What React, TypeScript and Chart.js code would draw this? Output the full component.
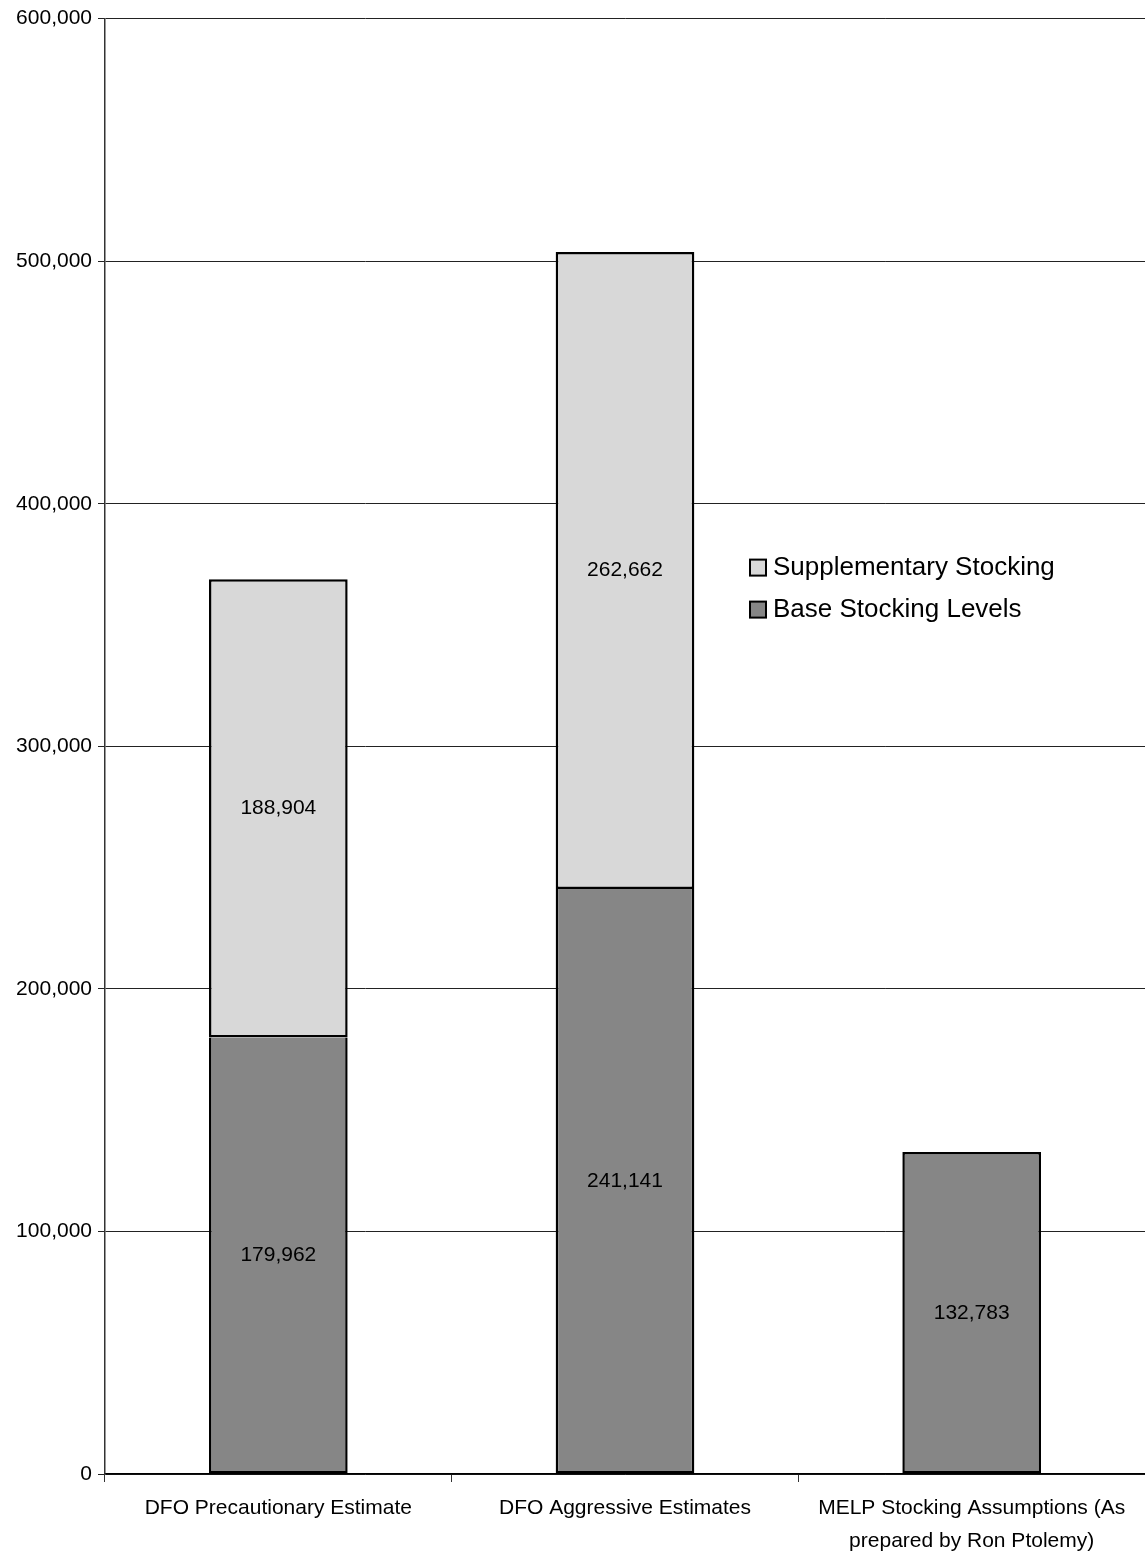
import React, { useEffect, useRef } from "react";
import { Chart, registerables } from "chart.js";

Chart.register(...registerables);

const categories: (string | string[])[] = [
  "DFO Precautionary Estimate",
  "DFO Aggressive Estimates",
  ["MELP Stocking Assumptions (As", "prepared by Ron Ptolemy)"],
];
const baseValues = [179962, 241141, 132783];
const supplementaryValues: (number | null)[] = [188904, 262662, null];
const seriesNames = ["Base Stocking Levels", "Supplementary Stocking"];
const yTicks = [0, 100000, 200000, 300000, 400000, 500000, 600000];

const FONT = "'Liberation Sans', Arial, Helvetica, sans-serif";
const DARK = "#868686";
const LIGHT = "#d8d8d8";
const BW = 2.5;

const fmt = (v: number) => v.toLocaleString("en-US");

const labelPlugin = {
  id: "segLabels",
  afterDatasetsDraw(chart: any) {
    const ctx = chart.ctx;
    ctx.save();
    ctx.font = `21px ${FONT}`;
    ctx.fillStyle = "#000";
    ctx.textAlign = "center";
    ctx.textBaseline = "middle";
    chart.data.datasets.forEach((ds: any, di: number) => {
      const meta = chart.getDatasetMeta(di);
      meta.data.forEach((el: any, i: number) => {
        const v = ds.data[i];
        if (v == null) return;
        const { x, y, base } = el.getProps(["x", "y", "base"], true);
        ctx.fillText(fmt(v), x, (y + base) / 2);
      });
    });
    ctx.restore();
  },
};

const legendPlugin = {
  id: "insideLegend",
  afterDraw(chart: any) {
    const ctx = chart.ctx;
    const area = chart.chartArea;
    const x0 = area.left + 645;
    const y0 = area.top + 549;
    const rowH = 42;
    const order = [1, 0];
    ctx.save();
    ctx.font = `26px ${FONT}`;
    ctx.textBaseline = "middle";
    ctx.textAlign = "left";
    order.forEach((di, r) => {
      const ds = chart.data.datasets[di];
      const cy = y0 + r * rowH;
      ctx.fillStyle = ds.backgroundColor;
      ctx.fillRect(x0, cy - 8, 16, 16);
      ctx.strokeStyle = "#000";
      ctx.lineWidth = 2;
      ctx.strokeRect(x0, cy - 8, 16, 16);
      ctx.fillStyle = "#000";
      ctx.fillText(ds.label, x0 + 23, cy);
    });
    ctx.restore();
  },
};

export default function App() {
  const ref = useRef<HTMLCanvasElement | null>(null);
  useEffect(() => {
    if (!ref.current) return;
    const chart = new Chart(ref.current, {
      type: "bar",
      data: {
        labels: categories,
        datasets: [
          {
            label: seriesNames[0],
            data: baseValues,
            backgroundColor: DARK,
            borderColor: "#000",
            borderWidth: (c: any) =>
              supplementaryValues[c.dataIndex] != null
                ? { top: 0, left: BW, right: BW, bottom: BW }
                : BW,
            borderSkipped: false,
            barPercentage: 0.4,
            categoryPercentage: 1,
          },
          {
            label: seriesNames[1],
            data: supplementaryValues,
            backgroundColor: LIGHT,
            borderColor: "#000",
            borderWidth: BW,
            borderSkipped: false,
            barPercentage: 0.4,
            categoryPercentage: 1,
          },
        ],
      },
      options: {
        animation: false,
        responsive: false,
        maintainAspectRatio: false,
        layout: { padding: { top: 18, right: 0, left: 0, bottom: 0 } },
        plugins: {
          legend: { display: false },
          tooltip: { enabled: false },
        },
        scales: {
          x: {
            stacked: true,
            grid: {
              offset: true,
              drawOnChartArea: false,
              drawTicks: true,
              tickLength: 8,
              color: "#333",
            },
            border: { display: true, color: "#000", width: 1.5 },
            ticks: {
              color: "#000",
              font: { family: FONT, size: 21, lineHeight: 1.55 },
              padding: 10,
              maxRotation: 0,
              autoSkip: false,
            },
            afterFit: (s: any) => {
              s.height = 79;
            },
          },
          y: {
            stacked: true,
            min: 0,
            max: 600000,
            afterBuildTicks: (s: any) => {
              s.ticks = yTicks.map((v) => ({ value: v }));
            },
            grid: {
              color: "#222",
              lineWidth: 1,
              tickLength: 7,
            },
            border: { display: true, color: "#333", width: 1.5 },
            ticks: {
              color: "#000",
              font: { family: FONT, size: 21 },
              padding: 6,
              callback: (v: any) => fmt(Number(v)),
            },
            afterFit: (s: any) => {
              s.width = 105;
            },
          },
        },
      },
      plugins: [labelPlugin, legendPlugin],
    });
    return () => chart.destroy();
  }, []);
  return (
    <div style={{ position: "absolute", left: 0, top: 0, width: 1145, height: 1553, background: "#fff" }}>
      <canvas ref={ref} width={1145} height={1553} style={{ display: "block" }} />
    </div>
  );
}
